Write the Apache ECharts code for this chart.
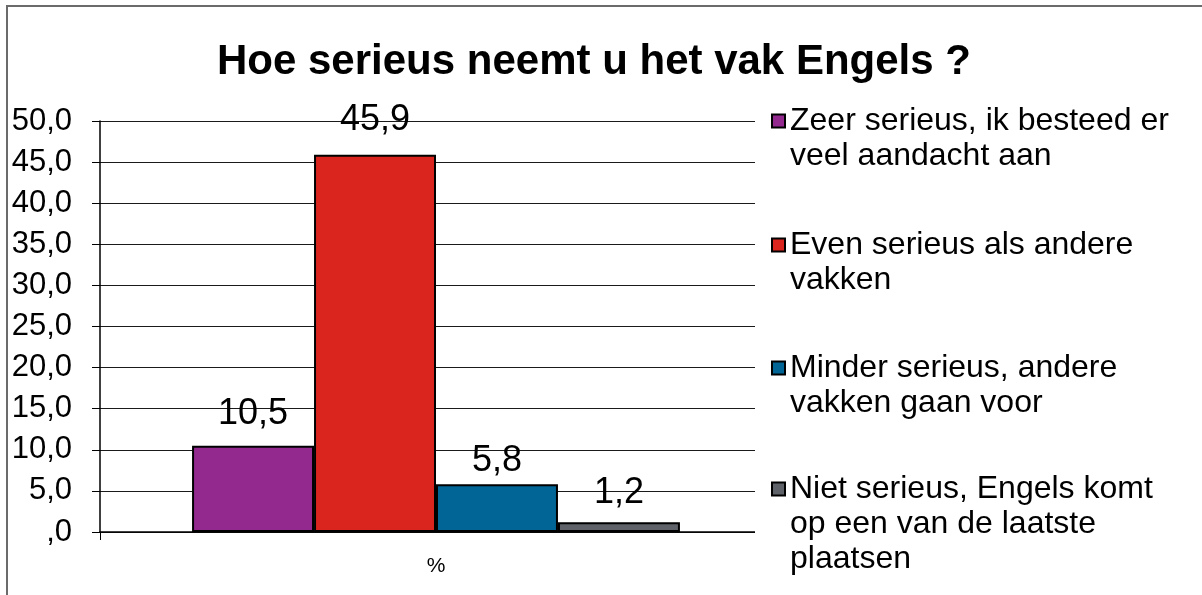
<!DOCTYPE html>
<html>
<head>
<meta charset="utf-8">
<script src="https://cdn.jsdelivr.net/npm/echarts@6/dist/echarts.min.js"></script>
<style>
html,body{margin:0;padding:0;background:#fff;}
#chart{width:1202px;height:595px;}
</style>
</head>
<body>
<div id="chart"></div>
<script>
var titleText = 'Hoe serieus neemt u het vak Engels ?';
var categories = ['%'];
var seriesNames = [
  'Zeer serieus, ik besteed er veel aandacht aan',
  'Even serieus als andere vakken',
  'Minder serieus, andere vakken gaan voor',
  'Niet serieus, Engels komt op een van de laatste plaatsen'
];
var legendLabels = [
  'Zeer serieus, ik besteed er\nveel aandacht aan',
  'Even serieus als andere\nvakken',
  'Minder serieus, andere\nvakken gaan voor',
  'Niet serieus, Engels komt\nop een van de laatste\nplaatsen'
];
var values = [10.5, 45.9, 5.8, 1.2];
var colors = ['#93298E', '#DA251E', '#016595', '#5F6369'];
var yTicks = {min: 0, max: 50, interval: 5};

var FONT = 'Liberation Sans';
function fmt(v){ var s = Number(v).toFixed(1).replace('.', ','); return s.indexOf('0,') === 0 ? s.slice(1) : s; }

var LH = 35;
var FS_LEG = 32;
var legendIconCenters = [121, 245, 368, 489];
var labelDistances = [14, 17, 5, 11];

var legends = seriesNames.map(function(n, i){
  var lines = legendLabels[i].split('\n').length;
  var blockH = (2 * lines - 1) * LH;
  return {
    show: true,
    data: [n],
    orient: 'vertical',
    left: 766,
    top: legendIconCenters[i] - blockH / 2 - 5,
    padding: 5,
    itemWidth: 13,
    itemHeight: 13,
    itemGap: 0,
    z: 20,
    icon: 'rect',
    formatter: function(name){
      var lbl = legendLabels[seriesNames.indexOf(name)];
      var k = lbl.split('\n').length - 1;
      var pre = '';
      for (var j = 0; j < k; j++) pre += ' \n';
      return pre + lbl;
    },
    textStyle: { fontFamily: FONT, fontSize: FS_LEG, color: '#000', lineHeight: LH },
    selectedMode: false
  };
});

var series = seriesNames.map(function(n, i){
  return {
    name: n,
    type: 'bar',
    data: [values[i]],
    barGap: '0%',
    barCategoryGap: '27.4%',
    itemStyle: { color: colors[i], borderColor: '#000', borderWidth: 2 },
    label: { show: true, position: 'top', distance: labelDistances[i], formatter: function(p){ return fmt(p.value); }, fontFamily: FONT, fontSize: 36, color: '#000' }
  };
});

var chart = echarts.init(document.getElementById('chart'), null, {renderer: 'canvas'});
chart.setOption({
  animation: false,
  backgroundColor: '#fff',
  color: colors,
  title: {
    text: titleText,
    left: 212,
    top: 36,
    textStyle: { fontFamily: FONT, fontSize: 42, fontWeight: 'bold', color: '#000' }
  },
  legend: legends,
  grid: { left: 100, right: 430, top: 121, bottom: 63, containLabel: false },
  xAxis: {
    type: 'category',
    data: categories,
    axisLine: { lineStyle: { color: '#000', width: 1.5 } },
    axisTick: { show: true, length: 8, lineStyle: { color: '#000' } },
    axisLabel: { fontFamily: FONT, fontSize: 21, color: '#000', margin: 24 }
  },
  yAxis: {
    type: 'value',
    min: yTicks.min, max: yTicks.max, interval: yTicks.interval,
    axisLine: { show: true, lineStyle: { color: '#000', width: 1.5 } },
    axisTick: { show: true, length: 8, lineStyle: { color: '#000' } },
    axisLabel: { fontFamily: FONT, fontSize: 31, color: '#000', margin: 28, formatter: fmt },
    splitLine: { lineStyle: { color: '#1a1a1a', width: 1 } }
  },
  graphic: [
    { type: 'rect', z: 10, shape: { x: 755, y: 100, width: 447, height: 450 }, style: { fill: '#fff' } },
    { type: 'rect', z: 30, shape: { x: 7, y: 6, width: 1250, height: 650 }, style: { fill: 'none', stroke: '#6b6b6b', lineWidth: 2 } }
  ],
  series: series
});
</script>
</body>
</html>
